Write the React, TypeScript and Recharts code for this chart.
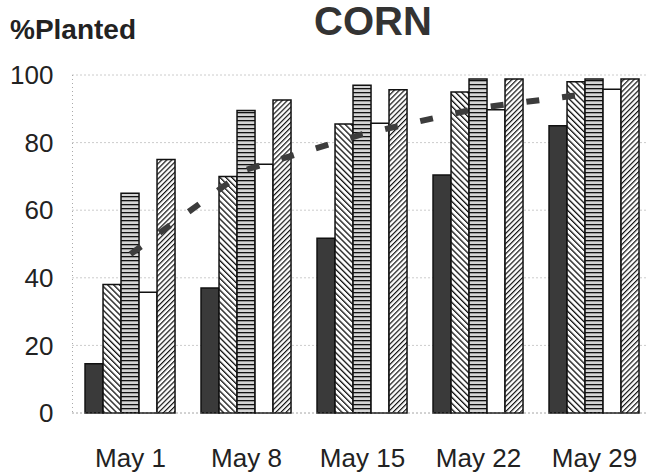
import {
  ComposedChart,
  Bar,
  Line,
  XAxis,
  YAxis,
  CartesianGrid,
} from 'recharts';

// weeks along the x axis
const weeks = ['May 1', 'May 8', 'May 15', 'May 22', 'May 29'];

// five bar series (% planted)
const solidBars = [14.6, 37, 51.7, 70.4, 85];
const backHatch = [38, 70, 85.5, 95, 98];
const stripes = [65, 89.5, 97, 98.8, 98.8];
const whiteBars = [35.7, 73.6, 85.7, 89.7, 95.8];
const fwdHatch = [75, 92.6, 95.6, 98.8, 98.8];

// dashed line (average)
const average = [47, 72, 82.5, 90.2, 94.7];

const yTicks = [0, 20, 40, 60, 80, 100];

const data = weeks.map((w, i) => ({
  name: w,
  s1: solidBars[i],
  s2: backHatch[i],
  s3: stripes[i],
  s4: whiteBars[i],
  s5: fwdHatch[i],
  avg: average[i],
}));

const font = 'Liberation Sans, Arial, Helvetica, sans-serif';

function Patterns() {
  // patterns live in a hidden svg, referenced by url(#id) from the chart
  return (
    <svg width={0} height={0} style={{ position: 'absolute' }}>
      <defs>
        <pattern id="back" patternUnits="userSpaceOnUse" width={4.2} height={4.2} patternTransform="rotate(-45)">
          <rect width={4.2} height={4.2} fill="#fff" />
          <rect width={1.3} height={4.2} fill="#111" />
        </pattern>
        <pattern id="fwd" patternUnits="userSpaceOnUse" width={3.6} height={3.6} patternTransform="rotate(45)">
          <rect width={3.6} height={3.6} fill="#fff" />
          <rect width={1.2} height={3.6} fill="#111" />
        </pattern>
        <pattern id="horiz" patternUnits="userSpaceOnUse" width={4} height={4}>
          <rect width={4} height={4} fill="#d4d4d4" />
          <rect width={4} height={1.3} fill="#111" />
        </pattern>
      </defs>
    </svg>
  );
}

export default function App() {
  return (
    <div
      style={{
        position: 'fixed',
        left: 0,
        top: 0,
        width: 648,
        height: 473,
        overflow: 'hidden',
        background: '#fff',
        fontFamily: font,
      }}
    >
      <Patterns />
      <div
        style={{
          position: 'absolute',
          left: 10,
          top: 16,
          fontSize: 28,
          lineHeight: 1,
          fontWeight: 'bold',
          color: '#222',
          whiteSpace: 'nowrap',
        }}
      >
        %Planted
      </div>
      <div
        style={{
          position: 'absolute',
          left: 273,
          width: 200,
          textAlign: 'center',
          top: 1,
          fontSize: 40,
          lineHeight: 1,
          fontWeight: 'bold',
          color: '#333',
        }}
      >
        CORN
      </div>
      <ComposedChart
        width={660}
        height={473}
        data={data}
        margin={{ top: 75, right: 7.5, left: 0, bottom: 0 }}
        barCategoryGap="10.8%"
        barGap={0}
      >
        {/* dotted grey gridlines */}
        <CartesianGrid vertical={false} stroke="#999" strokeDasharray="1 3" />
        <XAxis
          dataKey="name"
          height={60}
          tickLine={false}
          tickSize={0}
          tickMargin={36}
          axisLine={{ stroke: '#999', strokeDasharray: '1 3' }}
          tick={{ fontSize: 26, fill: '#222', fontFamily: font }}
        />
        <YAxis
          width={72.5}
          domain={[0, 100]}
          ticks={yTicks}
          tickLine={false}
          tickSize={0}
          tickMargin={19}
          axisLine={{ stroke: '#aaa', strokeDasharray: '1 3' }}
          tick={{ fontSize: 26, fill: '#222', fontFamily: font }}
        />
        <Bar dataKey="s1" fill="#3a3a3a" stroke="#111" strokeWidth={1.5} isAnimationActive={false} />
        <Bar dataKey="s2" fill="url(#back)" stroke="#111" strokeWidth={1.5} isAnimationActive={false} />
        <Bar dataKey="s3" fill="url(#horiz)" stroke="#111" strokeWidth={1.5} isAnimationActive={false} />
        <Bar dataKey="s4" fill="#fff" stroke="#111" strokeWidth={1.5} isAnimationActive={false} />
        <Bar dataKey="s5" fill="url(#fwd)" stroke="#111" strokeWidth={1.5} isAnimationActive={false} />
        <Line
          dataKey="avg"
          type="linear"
          stroke="#3c3c3c"
          strokeWidth={6}
          strokeDasharray="13 23"
          dot={false}
          activeDot={false}
          isAnimationActive={false}
        />
      </ComposedChart>
    </div>
  );
}
